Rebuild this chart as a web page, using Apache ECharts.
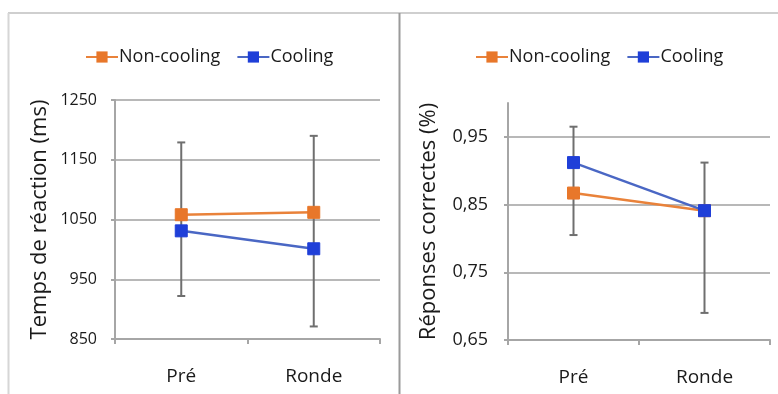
<!DOCTYPE html>
<html>
<head>
<meta charset="utf-8">
<script src="https://cdn.jsdelivr.net/npm/echarts@6/dist/echarts.min.js"></script>
<style>
  html, body { margin: 0; padding: 0; background: #fff; }
  #chart { width: 778px; height: 394px; }
</style>
</head>
<body>
<div id="chart"></div>
<script>
// catégories communes
const sessions = ['Pré', 'Ronde'];

// temps de réaction (ms)
const rtNonCooling = [1058, 1062];
const rtCooling = [1031, 1001];
const rtErrLow = [922, 871];
const rtErrHigh = [1179, 1190];

// réponses correctes (%)
const accNonCooling = [0.867, 0.841];
const accCooling = [0.912, 0.841];
const accErrLow = [0.805, 0.69];
const accErrHigh = [0.965, 0.912];

const FONT = 'Open Sans';
const TXT = '#1a1a1a';
const orange = '#e9823a';
const orangeDark = '#e8772a';
const blueLine = '#4a67c4';
const blueMark = '#1f3fd8';
const gridGray = '#b8b8b8';

const chart = echarts.init(document.getElementById('chart'));

// barres d'erreur grises (une par catégorie)
const errorBars = (low, high) =>
  low.map((v, i) => [i, v, high[i]]);

const renderErr = (params, api) => {
  const x = api.value(0);
  const lo = api.coord([x, api.value(1)]);
  const hi = api.coord([x, api.value(2)]);
  const cap = 4;
  const style = { stroke: '#6f6f6f', lineWidth: 2 };
  return {
    type: 'group',
    children: [
      { type: 'line', shape: { x1: lo[0], y1: lo[1], x2: hi[0], y2: hi[1] }, style },
      { type: 'line', shape: { x1: lo[0] - cap, y1: lo[1], x2: lo[0] + cap, y2: lo[1] }, style },
      { type: 'line', shape: { x1: hi[0] - cap, y1: hi[1], x2: hi[0] + cap, y2: hi[1] }, style }
    ]
  };
};

const xAxisBase = (gridIndex) => ({
  type: 'category',
  gridIndex,
  data: sessions,
  boundaryGap: true,
  axisLine: { lineStyle: { color: '#a6a6a6', width: 2 } },
  axisTick: { show: true, length: 5, lineStyle: { color: '#a6a6a6', width: 2 } },
  axisLabel: { color: TXT, fontFamily: FONT, fontSize: 19, margin: 28 }
});

const lineSeries = (name, data, xi, yi, lineColor, markColor) => ({
  name,
  type: 'line',
  xAxisIndex: xi,
  yAxisIndex: yi,
  data,
  symbol: 'rect',
  symbolSize: 12,
  z: 5,
  lineStyle: { color: lineColor, width: 2.5 },
  itemStyle: { color: markColor, borderColor: markColor },
  emphasis: { disabled: true }
});

const legendBase = (left) => ({
  left,
  top: 43,
  itemWidth: 32,
  itemHeight: 14,
  itemGap: 16,
  data: ['Non-cooling', 'Cooling'],
  textStyle: { color: TXT, fontFamily: FONT, fontSize: 18, padding: [0, 0, 0, -4] }
});

chart.setOption({
  animation: false,
  backgroundColor: '#fff',
  legend: [legendBase(80), legendBase(470)],
  grid: [
    { left: 115, right: 398, top: 100, bottom: 55 },
    { left: 508, right: 8, top: 103, bottom: 54 }
  ],
  xAxis: [xAxisBase(0), xAxisBase(1)],
  yAxis: [
    {
      type: 'value',
      gridIndex: 0,
      min: 850,
      max: 1250,
      interval: 100,
      name: 'Temps de réaction (ms)',
      nameLocation: 'middle',
      nameGap: 64,
      nameTextStyle: { color: TXT, fontFamily: FONT, fontSize: 22 },
      axisLine: { show: true, lineStyle: { color: '#a6a6a6', width: 2 } },
      axisTick: { show: true, length: 4, lineStyle: { color: '#a6a6a6', width: 2 } },
      splitLine: { lineStyle: { color: gridGray, width: 2 } },
      axisLabel: {
        color: TXT,
        fontFamily: FONT,
        fontSize: 16,
        margin: 18,
        formatter: (v) => String(v)
      }
    },
    {
      type: 'value',
      gridIndex: 1,
      min: 0.65,
      max: 1.0,
      interval: 0.1,
      name: 'Réponses correctes (%)',
      nameLocation: 'middle',
      nameGap: 68,
      nameTextStyle: { color: TXT, fontFamily: FONT, fontSize: 22 },
      axisLine: { show: true, lineStyle: { color: '#a6a6a6', width: 2 } },
      axisTick: { show: true, length: 4, lineStyle: { color: '#a6a6a6', width: 2 } },
      splitLine: { showMaxLine: false, lineStyle: { color: gridGray, width: 2 } },
      axisLabel: {
        color: TXT,
        fontFamily: FONT,
        fontSize: 18,
        margin: 20,
        showMaxLabel: false,
        formatter: (v) => v.toFixed(2).replace('.', ',')
      }
    }
  ],
  graphic: [
    { type: 'line', shape: { x1: 8, y1: 13, x2: 778, y2: 13 }, style: { stroke: '#cfcfcf', lineWidth: 2 } },
    { type: 'line', shape: { x1: 8.5, y1: 13, x2: 8.5, y2: 394 }, style: { stroke: '#d6d6d6', lineWidth: 2 } },
    { type: 'line', shape: { x1: 399.5, y1: 13, x2: 399.5, y2: 394 }, style: { stroke: '#9a9a9a', lineWidth: 2 } }
  ],
  series: [
    {
      type: 'custom',
      xAxisIndex: 0,
      yAxisIndex: 0,
      z: 2,
      renderItem: renderErr,
      data: errorBars(rtErrLow, rtErrHigh)
    },
    {
      type: 'custom',
      xAxisIndex: 1,
      yAxisIndex: 1,
      z: 2,
      renderItem: renderErr,
      data: errorBars(accErrLow, accErrHigh)
    },
    lineSeries('Non-cooling', rtNonCooling, 0, 0, orange, orangeDark),
    lineSeries('Cooling', rtCooling, 0, 0, blueLine, blueMark),
    lineSeries('Non-cooling', accNonCooling, 1, 1, orange, orangeDark),
    lineSeries('Cooling', accCooling, 1, 1, blueLine, blueMark)
  ]
});
</script>
</body>
</html>
